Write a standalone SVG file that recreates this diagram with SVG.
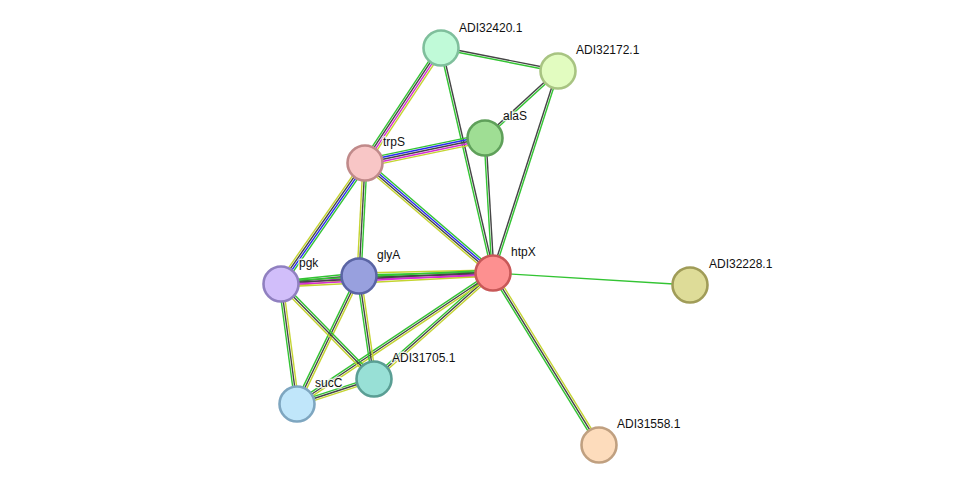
<svg xmlns="http://www.w3.org/2000/svg" width="976" height="491" viewBox="0 0 976 491">
<style>
line{stroke-width:1.4;fill:none}
.g{stroke:#33c433}.k{stroke:#454545}.b{stroke:#2a2af0}.m{stroke:#d42ad4}.y{stroke:#c4d430}
.n{stroke-width:2.6}
text{font-family:"Liberation Sans",Arial,sans-serif;font-size:12px;fill:#111;stroke:#fff;stroke-width:3;stroke-opacity:0.8;paint-order:stroke;stroke-linejoin:round}
</style>
<rect width="976" height="491" fill="#fff"/>
<g id="edges">
<g transform="translate(441,48) rotate(11.12)"><line class="k" x2="119.24" y1="-1" y2="-1"/><line class="g" x2="119.24" y1="1" y2="1"/></g>
<g transform="translate(441,48) rotate(123.46)"><line class="g" x2="137.84" y1="3" y2="3"/><line class="k" x2="137.84" y1="1" y2="1"/><line class="m" x2="137.84" y1="-1" y2="-1"/><line class="y" x2="137.84" y1="-3" y2="-3"/></g>
<g transform="translate(441,48) rotate(76.99)"><line class="g" x2="230.93" y1="1" y2="1"/><line class="k" x2="230.93" y1="-1" y2="-1"/></g>
<g transform="translate(558,71) rotate(137.46)"><line class="k" x2="99.09" y1="1" y2="1"/><line class="g" x2="99.09" y1="-1" y2="-1"/></g>
<g transform="translate(558,71) rotate(107.84)"><line class="k" x2="212.2" y1="1" y2="1"/><line class="g" x2="212.2" y1="-1" y2="-1"/></g>
<g transform="translate(365,163) rotate(-11.77)"><line class="g" x2="122.58" y1="-4" y2="-4"/><line class="b" x2="122.58" y1="-2" y2="-2"/><line class="k" x2="122.58" y1="0" y2="0"/><line class="m" x2="122.58" y1="2" y2="2"/><line class="y" x2="122.58" y1="4" y2="4"/></g>
<g transform="translate(485,138) rotate(86.61)"><line class="g" x2="135.24" y1="1" y2="1"/><line class="k" x2="135.24" y1="-1" y2="-1"/></g>
<g transform="translate(365,163) rotate(40.67)"><line class="g" x2="168.77" y1="-3" y2="-3"/><line class="b" x2="168.77" y1="-1" y2="-1"/><line class="k" x2="168.77" y1="1" y2="1"/><line class="y" x2="168.77" y1="3" y2="3"/></g>
<g transform="translate(365,163) rotate(124.77)"><line class="y" x2="147.3" y1="3" y2="3"/><line class="k" x2="147.3" y1="1" y2="1"/><line class="b" x2="147.3" y1="-1" y2="-1"/><line class="g" x2="147.3" y1="-3" y2="-3"/></g>
<g transform="translate(365,163) rotate(93.04)"><line class="y" x2="113.16" y1="2" y2="2"/><line class="k" x2="113.16" y1="0" y2="0"/><line class="g" x2="113.16" y1="-2" y2="-2"/></g>
<g transform="translate(281,284) rotate(-5.86)"><line class="g" x2="78.41" y1="-3" y2="-3"/><line class="k" x2="78.41" y1="-1" y2="-1"/><line class="m" x2="78.41" y1="1" y2="1"/><line class="y" x2="78.41" y1="3" y2="3"/></g>
<g transform="translate(359,276) rotate(-1.28)"><line class="y" x2="134.03" y1="-3" y2="-3"/><line class="g" x2="134.03" y1="-1" y2="-1"/><line class="k" x2="134.03" y1="1" y2="1"/><line class="m" x2="134.03" y1="3" y2="3"/></g>
<g transform="translate(281,284) rotate(-2.97)"><line class="g" x2="212.29" y1="-3" y2="-3"/><line class="k" x2="212.29" y1="-1" y2="-1"/><line class="m" x2="212.29" y1="1" y2="1"/><line class="y" x2="212.29" y1="3" y2="3"/></g>
<g transform="translate(493,273) rotate(3.49)"><line class="g" x2="197.37"/></g>
<g transform="translate(493,273) rotate(58.35)"><line class="y" x2="202.04" y1="-2" y2="-2"/><line class="k" x2="202.04"/><line class="g" x2="202.04" y1="2" y2="2"/></g>
<g transform="translate(493,273) rotate(138.31)"><line class="g" x2="159.36" y1="2" y2="2"/><line class="k" x2="159.36"/><line class="y" x2="159.36" y1="-2" y2="-2"/></g>
<g transform="translate(493,273) rotate(146.25)"><line class="g" x2="235.75" y1="2" y2="2"/><line class="k" x2="235.75"/><line class="y" x2="235.75" y1="-2" y2="-2"/></g>
<g transform="translate(359,276) rotate(81.71)"><line class="g" x2="104.09" y1="2" y2="2"/><line class="k" x2="104.09"/><line class="y" x2="104.09" y1="-2" y2="-2"/></g>
<g transform="translate(359,276) rotate(115.85)"><line class="g" x2="142.22" y1="2" y2="2"/><line class="k" x2="142.22"/><line class="y" x2="142.22" y1="-2" y2="-2"/></g>
<g transform="translate(281,284) rotate(82.41)"><line class="g" x2="121.06" y1="2" y2="2"/><line class="k" x2="121.06"/><line class="y" x2="121.06" y1="-2" y2="-2"/></g>
<g transform="translate(281,284) rotate(45.61)"><line class="g" x2="132.95" y1="-2" y2="-2"/><line class="k" x2="132.95"/><line class="y" x2="132.95" y1="2" y2="2"/></g>
<g transform="translate(297,404) rotate(-17.99)"><line class="g" x2="80.96" y1="-2" y2="-2"/><line class="k" x2="80.96"/><line class="y" x2="80.96" y1="2" y2="2"/></g>
</g>
<g id="n-ADI32420.1"><circle class="n" cx="441" cy="48" r="17.5" fill="#c0fad8" stroke="#7fbf9c"/><text x="459" y="32">ADI32420.1</text></g>
<g id="n-ADI32172.1"><circle class="n" cx="558" cy="71" r="17.5" fill="#e2fcc0" stroke="#a8c482"/><text x="576" y="54">ADI32172.1</text></g>
<g id="n-alaS"><circle class="n" cx="485" cy="138" r="17.5" fill="#9fde94" stroke="#5fa05a"/><text x="503" y="120">alaS</text></g>
<g id="n-trpS"><circle class="n" cx="365" cy="163" r="17.5" fill="#f8c6c6" stroke="#c08a8a"/><text x="383" y="146">trpS</text></g>
<g id="n-htpX"><circle class="n" cx="493" cy="273" r="17.5" fill="#fd9090" stroke="#c85858"/><text x="511" y="256">htpX</text></g>
<g id="n-ADI32228.1"><circle class="n" cx="690" cy="285" r="17.5" fill="#dedc98" stroke="#a09c58"/><text x="709" y="268">ADI32228.1</text></g>
<g id="n-pgk"><circle class="n" cx="281" cy="284" r="17.5" fill="#d1befa" stroke="#9080c0"/><text x="299" y="267">pgk</text></g>
<g id="n-glyA"><circle class="n" cx="359" cy="276" r="17.5" fill="#98a0de" stroke="#5a64a4"/><text x="377" y="259">glyA</text></g>
<g id="n-ADI31705.1"><circle class="n" cx="374" cy="379" r="17.5" fill="#98e0d6" stroke="#5a9e94"/><text x="392" y="362">ADI31705.1</text></g>
<g id="n-sucC"><circle class="n" cx="297" cy="404" r="17.5" fill="#c0e6fa" stroke="#7ea6c0"/><text x="315" y="387">sucC</text></g>
<g id="n-ADI31558.1"><circle class="n" cx="599" cy="445" r="17.5" fill="#fddcbc" stroke="#c0a080"/><text x="617" y="428">ADI31558.1</text></g>
</svg>
